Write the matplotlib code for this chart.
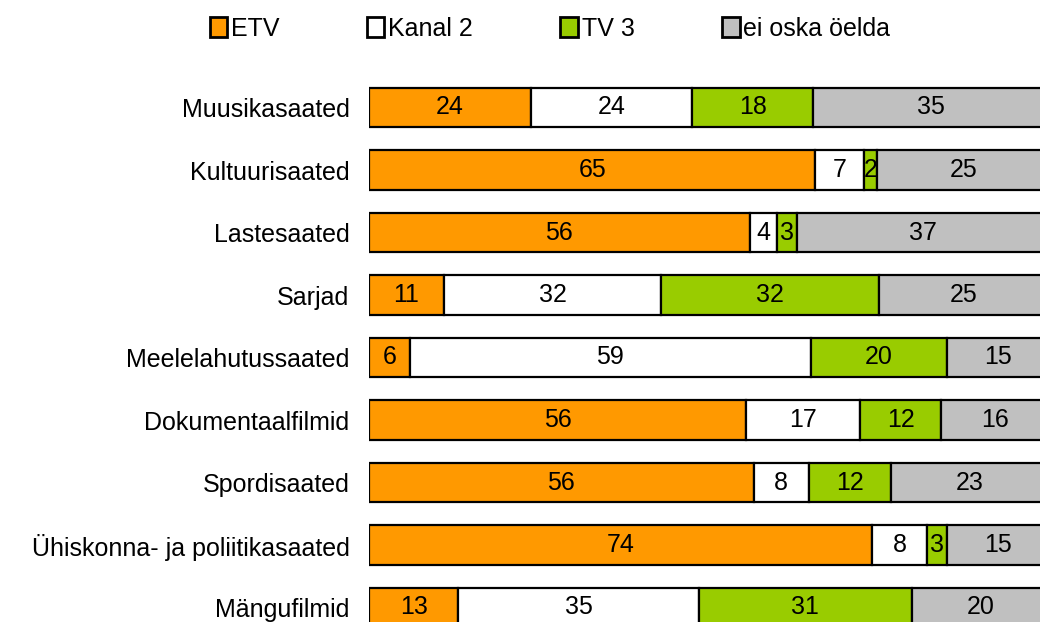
import matplotlib
matplotlib.use("Agg")
import matplotlib.pyplot as plt
from matplotlib.patches import Patch
import numpy as np

plt.rcParams['font.family'] = ['Liberation Sans', 'DejaVu Sans']

categories = ["Muusikasaated", "Kultuurisaated", "Lastesaated", "Sarjad",
              "Meelelahutussaated", "Dokumentaalfilmid", "Spordisaated",
              "Ühiskonna- ja poliitikasaated", "Mängufilmid"]
series_names = ["ETV", "Kanal 2", "TV 3", "ei oska öelda"]
etv = [24, 65, 56, 11, 6, 56, 56, 74, 13]
kanal2 = [24, 7, 4, 32, 59, 17, 8, 8, 35]
tv3 = [18, 2, 3, 32, 20, 12, 12, 3, 31]
eioska = [35, 25, 37, 25, 15, 16, 23, 15, 20]
colors = ["#FF9900", "#FFFFFF", "#99CC00", "#C0C0C0"]

data = np.array([etv, kanal2, tv3, eioska], dtype=float)
totals = data.sum(axis=0)
norm = data / totals * 100

W, H = 1040, 622
fig = plt.figure(figsize=(W / 100, H / 100), dpi=100)
left_px, right_px = 369, 1049
top_px, bottom_px = 76.25, 638.75
ax = fig.add_axes([left_px / W, 1 - bottom_px / H,
                   (right_px - left_px) / W, (bottom_px - top_px) / H])

y = np.arange(len(categories))
left = np.zeros(len(categories))
fs = 18
for i, name in enumerate(series_names):
    ax.barh(y, norm[i], left=left, height=0.625, color=colors[i],
            edgecolor="black", linewidth=1.6, label=name)
    for j in range(len(categories)):
        ax.text(left[j] + norm[i][j] / 2, y[j], f"{int(data[i][j])}",
                ha="center", va="center", fontsize=fs, color="black")
    left += norm[i]

ax.set_xlim(0, 100)
ax.set_ylim(len(categories) - 0.5, -0.5)
ax.set_yticks(y)
ax.set_yticklabels(categories, fontsize=fs)
ax.tick_params(axis="y", length=0, pad=14)
ax.set_xticks([])
for s in ax.spines.values():
    s.set_visible(False)

handles = [Patch(facecolor=c, edgecolor="black", linewidth=2) for c in colors]
fig.legend(handles, series_names, loc="center", bbox_to_anchor=(550 / W, 1 - 29 / H),
           ncol=4, frameon=False, fontsize=fs, handlelength=0.7, handleheight=0.85,
           handletextpad=0.15, columnspacing=3.5)

fig.savefig("out.png", dpi=100)
